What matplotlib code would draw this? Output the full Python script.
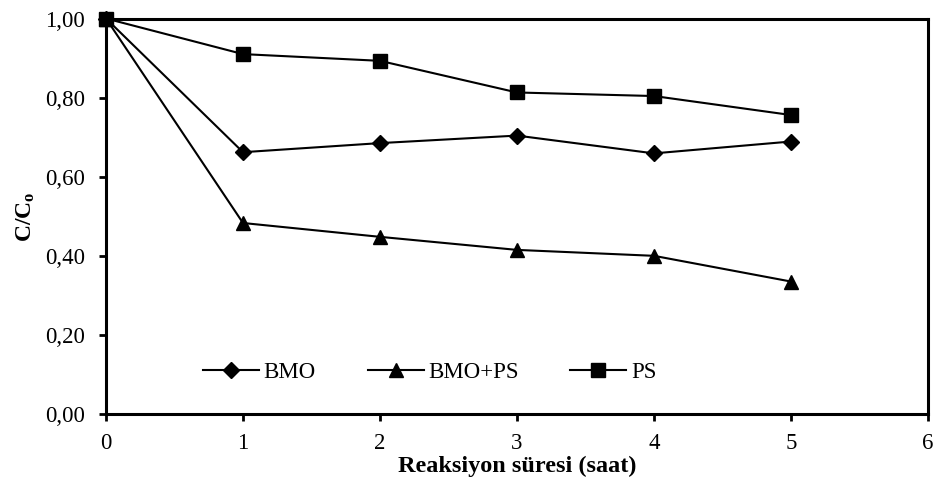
import matplotlib
matplotlib.use('Agg')
import matplotlib.pyplot as plt
from matplotlib.ticker import FuncFormatter

# reaction time (h) and normalised concentration C/Co
saat = [0, 1, 2, 3, 4, 5]
bmo = [1.00, 0.662, 0.685, 0.704, 0.659, 0.689]
bmo_ps = [1.00, 0.483, 0.448, 0.415, 0.400, 0.335]
ps = [1.00, 0.910, 0.893, 0.813, 0.804, 0.756]

plt.rcParams['font.family'] = ['Liberation Serif', 'DejaVu Serif']
plt.rcParams['mathtext.fontset'] = 'custom'
plt.rcParams['mathtext.rm'] = 'Liberation Serif'
plt.rcParams['mathtext.bf'] = 'Liberation Serif:bold'

fig = plt.figure(figsize=(9.34, 4.82), dpi=100)
ax = fig.add_axes([0.1135, 0.141, 0.88, 0.8206])

ax.plot(saat, bmo, color='black', lw=1.5, marker='D', ms=8, label='BMO', clip_on=False)
ax.plot(saat, bmo_ps, color='black', lw=1.5, marker='^', ms=10, label='BMO+PS', clip_on=False)
ax.plot(saat, ps, color='black', lw=1.5, marker='s', ms=10, label='PS', clip_on=False)

ax.set_xlim(0, 6)
ax.set_ylim(0, 1.0)
ax.set_xticks(range(0, 7))
ax.set_yticks([0, 0.2, 0.4, 0.6, 0.8, 1.0])
ax.yaxis.set_major_formatter(FuncFormatter(lambda v, p: f'{v:.2f}'.replace('.', ',')))

for s in ax.spines.values():
    s.set_linewidth(2.2)
ax.tick_params(direction='out', length=5, width=2, labelsize=16.5)
ax.tick_params(axis='x', pad=9)
ax.tick_params(axis='y', pad=10)

ax.set_xlabel('Reaksiyon süresi (saat)', fontsize=17.5, fontweight='bold', labelpad=1)
ax.set_ylabel(r'$\mathbf{C/C_o}$', fontsize=17, labelpad=6)

ax.legend(loc='center left', bbox_to_anchor=(0.118, 0.106), ncol=3, frameon=False,
          fontsize=16.5, handlelength=2.45, columnspacing=2.25, handletextpad=0.2,
          borderpad=0, borderaxespad=0)

fig.savefig('out.png', dpi=100)
